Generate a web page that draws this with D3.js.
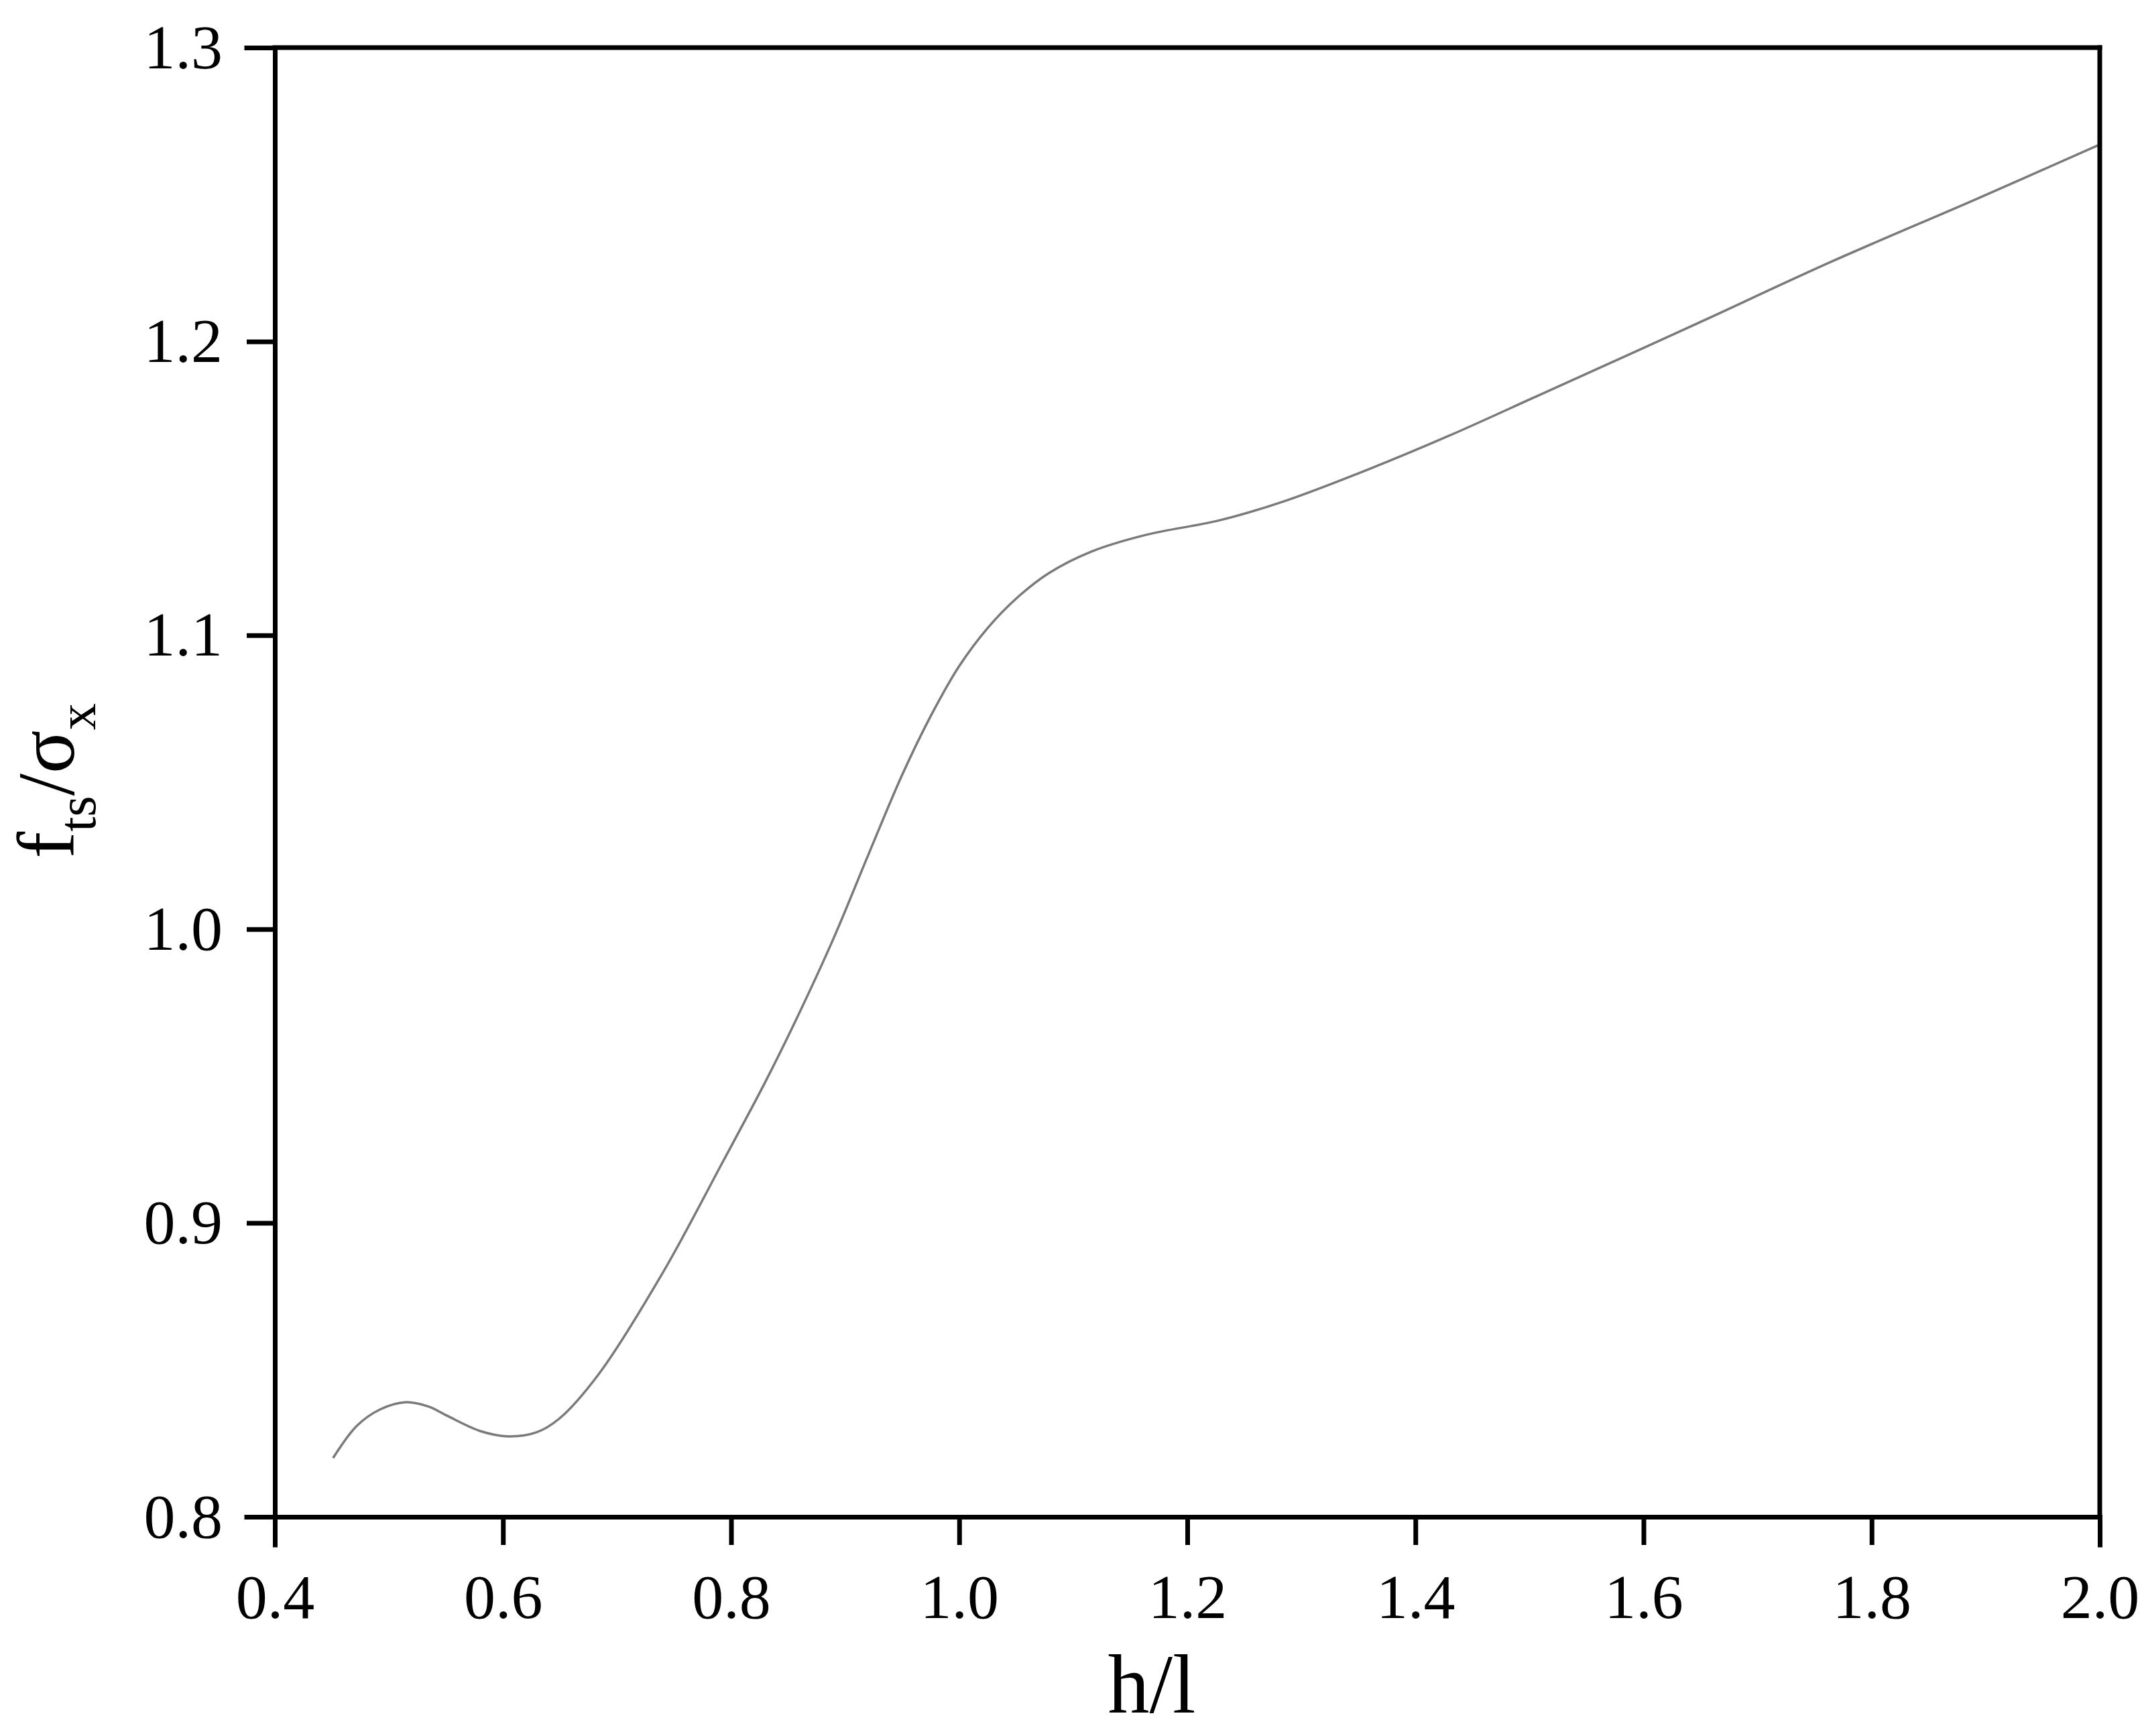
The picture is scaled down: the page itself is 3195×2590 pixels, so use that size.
<!DOCTYPE html>
<html>
<head>
<meta charset="utf-8">
<script src="https://cdn.jsdelivr.net/npm/d3@7"></script>
<style>
  html, body { margin: 0; padding: 0; background: #fff; }
  svg { display: block; }
  text { font-family: "Liberation Serif", "Times New Roman", serif; fill: #000; }
</style>
</head>
<body>
<script>
// ---- data ----
const hOverL = [0.451, 0.472, 0.492, 0.515, 0.535, 0.551, 0.580, 0.604, 0.629, 0.649, 0.684,
                0.740, 0.793, 0.830, 0.858, 0.890, 0.920, 0.950, 0.975, 1.000, 1.025, 1.050,
                1.078, 1.116, 1.164, 1.228, 1.284, 1.359, 1.430, 1.510, 1.638, 1.765, 1.892, 2.000];
const ftsOverSigma = [0.820, 0.831, 0.8365, 0.839, 0.8375, 0.8344, 0.8292, 0.8274, 0.8287, 0.8333, 0.8486,
                      0.883, 0.921, 0.948, 0.970, 0.997, 1.025, 1.0525, 1.0725, 1.0895, 1.1025, 1.1125,
                      1.121, 1.1285, 1.1342, 1.1391, 1.1455, 1.1565, 1.168, 1.182, 1.2045, 1.2272, 1.2485, 1.267];
const xTicks = [0.4, 0.6, 0.8, 1.0, 1.2, 1.4, 1.6, 1.8, 2.0];
const xMinorTicks = [0.5, 0.7, 0.9, 1.1, 1.3, 1.5, 1.7, 1.9];
const yTicks = [0.8, 0.9, 1.0, 1.1, 1.2, 1.3];
const yMinorTicks = [0.85, 0.95, 1.05, 1.15, 1.25];

// ---- layout ----
const W = 3195, H = 2590;
const L = 410, R = 3132, T = 71, B = 2263;

const svg = d3.select("body").append("svg").attr("width", W).attr("height", H);

const x = d3.scaleLinear().domain([0.4, 2.0]).range([L, R]);
const y = d3.scaleLinear().domain([0.8, 1.3]).range([B, T]);

// curve
const line = d3.line().x((d, i) => x(hOverL[i])).y(d => y(d)).curve(d3.curveCatmullRom.alpha(0.5));
svg.append("path")
  .attr("d", line(ftsOverSigma))
  .attr("fill", "none")
  .attr("stroke", "#7a7a7a")
  .attr("stroke-width", 3.5);

const axisW = 7;

// frame (top, right)
svg.append("line").attr("x1", L).attr("x2", R).attr("y1", T).attr("y2", T)
  .attr("stroke", "#000").attr("stroke-width", axisW).attr("stroke-linecap", "square");
svg.append("line").attr("x1", R).attr("x2", R).attr("y1", T).attr("y2", B)
  .attr("stroke", "#000").attr("stroke-width", axisW).attr("stroke-linecap", "square");

// bottom axis
const gx = svg.append("g").attr("transform", `translate(0,${B})`);
gx.call(d3.axisBottom(x).tickValues(xMinorTicks).tickSize(22).tickFormat(""));
gx.call(d3.axisBottom(x).tickValues(xTicks).tickSize(42).tickPadding(42).tickFormat(d3.format(".1f")));
gx.selectAll("path.domain").attr("stroke", "#000").attr("stroke-width", axisW);
gx.selectAll(".tick line").attr("stroke", "#000").attr("stroke-width", axisW);
gx.selectAll(".tick text").attr("font-size", 94).attr("font-family", "Liberation Serif").attr("fill", "#000");

// left axis
const gy = svg.append("g").attr("transform", `translate(${L},0)`);
gy.call(d3.axisLeft(y).tickValues(yMinorTicks).tickSize(22).tickFormat(""));
gy.call(d3.axisLeft(y).tickValues(yTicks).tickSize(42).tickPadding(36).tickFormat(d3.format(".1f")));
gy.selectAll("path.domain").attr("stroke", "#000").attr("stroke-width", axisW);
gy.selectAll(".tick line").attr("stroke", "#000").attr("stroke-width", axisW);
gy.selectAll(".tick text").attr("font-size", 94).attr("font-family", "Liberation Serif").attr("fill", "#000");
svg.selectAll("path.domain").attr("stroke-linecap", "square");

// x title
svg.append("text")
  .attr("x", 1718).attr("y", 2555)
  .attr("text-anchor", "middle")
  .attr("font-size", 124)
  .text("h/l");

// y title
const yt = svg.append("text")
  .attr("transform", `translate(110,1165) rotate(-90)`)
  .attr("text-anchor", "middle")
  .attr("font-size", 120);
yt.append("tspan").text("f");
yt.append("tspan").attr("font-size", 80).attr("dy", 32).text("ts");
yt.append("tspan").attr("dy", -32).text("/σ");
yt.append("tspan").attr("font-size", 80).attr("dy", 32).text("x");
</script>
</body>
</html>
